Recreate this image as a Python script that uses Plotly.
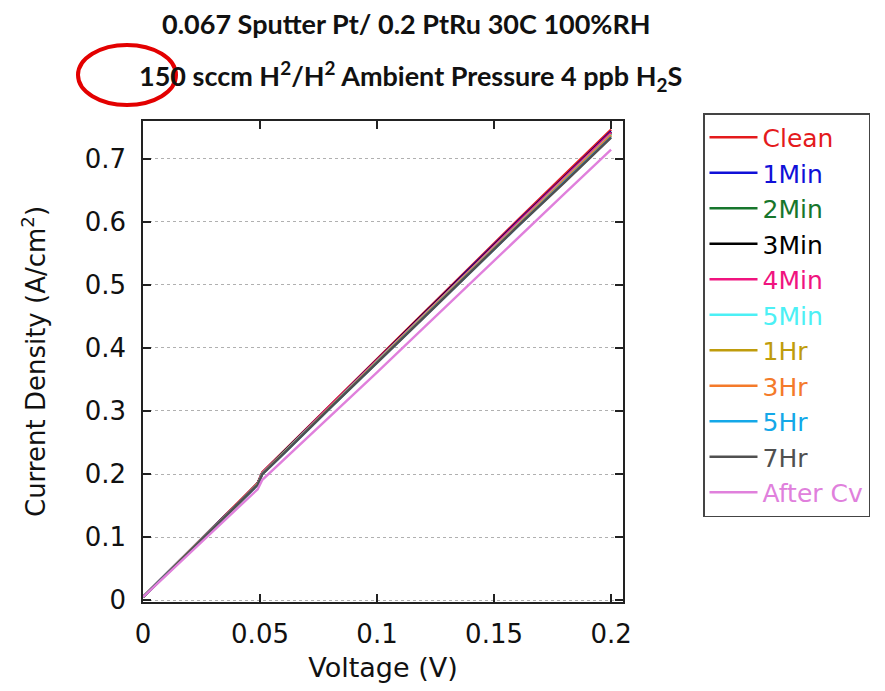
import plotly.graph_objects as go

voltage = [0, 0.01, 0.02, 0.03, 0.04, 0.049, 0.051, 0.06, 0.08, 0.10, 0.12, 0.14, 0.16, 0.18, 0.20]

clean   = [0.005, 0.042, 0.079, 0.116, 0.152, 0.186, 0.203, 0.236, 0.310, 0.383, 0.456, 0.529, 0.602, 0.674, 0.746]
min1    = [0.005, 0.042, 0.079, 0.116, 0.151, 0.185, 0.202, 0.235, 0.309, 0.381, 0.454, 0.527, 0.600, 0.671, 0.743]
min2    = [0.005, 0.042, 0.078, 0.115, 0.151, 0.185, 0.201, 0.234, 0.308, 0.380, 0.452, 0.525, 0.597, 0.669, 0.740]
min3    = [0.005, 0.042, 0.079, 0.115, 0.151, 0.185, 0.202, 0.235, 0.308, 0.381, 0.454, 0.526, 0.599, 0.670, 0.742]
min4    = [0.005, 0.042, 0.078, 0.115, 0.151, 0.185, 0.202, 0.234, 0.308, 0.380, 0.453, 0.525, 0.598, 0.669, 0.741]
min5    = [0.005, 0.042, 0.078, 0.115, 0.150, 0.184, 0.201, 0.234, 0.307, 0.379, 0.451, 0.523, 0.596, 0.667, 0.738]
hr1     = [0.005, 0.041, 0.078, 0.114, 0.150, 0.184, 0.200, 0.233, 0.306, 0.378, 0.450, 0.522, 0.594, 0.665, 0.736]
hr3     = [0.005, 0.042, 0.078, 0.115, 0.150, 0.184, 0.201, 0.233, 0.306, 0.378, 0.451, 0.523, 0.595, 0.666, 0.737]
hr5     = [0.005, 0.041, 0.078, 0.114, 0.150, 0.183, 0.200, 0.232, 0.305, 0.377, 0.449, 0.521, 0.592, 0.663, 0.734]
hr7     = [0.005, 0.041, 0.078, 0.114, 0.149, 0.183, 0.200, 0.232, 0.305, 0.376, 0.448, 0.520, 0.592, 0.662, 0.733]
aftercv = [0.005, 0.040, 0.075, 0.110, 0.144, 0.176, 0.191, 0.222, 0.292, 0.361, 0.432, 0.503, 0.574, 0.644, 0.714]

series_names = ["Clean", "1Min", "2Min", "3Min", "4Min", "5Min", "1Hr", "3Hr", "5Hr", "7Hr", "After Cv"]
series_values = [clean, min1, min2, min3, min4, min5, hr1, hr3, hr5, hr7, aftercv]
series_colors = ["#e41a1c", "#1010d8", "#17762c", "#000000", "#f0147f", "#4cf0f5",
                 "#bf9c0c", "#f47a2a", "#14a8e8", "#505050", "#e080dc"]

x_ticks = [0, 0.05, 0.1, 0.15, 0.2]
x_tick_labels = ["0", "0.05", "0.1", "0.15", "0.2"]
y_ticks = [0, 0.1, 0.2, 0.3, 0.4, 0.5, 0.6, 0.7]
y_tick_labels = ["0", "0.1", "0.2", "0.3", "0.4", "0.5", "0.6", "0.7"]

title1 = "0.067 Sputter Pt/ 0.2 PtRu 30C 100%RH"
title2 = "150 sccm H<sup>2</sup>/H<sup>2</sup> Ambient Pressure 4 ppb H<sub>2</sub>S"

fig = go.Figure()
for name, vals, col in zip(series_names, series_values, series_colors):
    fig.add_trace(go.Scatter(
        x=voltage, y=vals, mode="lines",
        name=f"<span style='color:{col}'>{name}</span>",
        line=dict(color=col, width=2.4),
    ))

# page body has an 8px margin: pixel positions below are screen px minus 8
OFF = 8
L, T = 143 - OFF, 121 - OFF
W, H = 885 - OFF, 691 - OFF
PW, PH = 480, 481

def px(x):
    return (x - OFF - L) / PW

def py(y):
    return (H - 89 - (y - OFF)) / PH

font_main = "DejaVu Sans, Liberation Sans, sans-serif"
title_font = dict(family="Lato, Open Sans, sans-serif", size=27, color="#111")
fig.update_layout(
    width=W, height=H,
    margin=dict(l=L, r=W - L - PW, t=T, b=89, autoexpand=False),
    paper_bgcolor="white", plot_bgcolor="white",
    font=dict(family=font_main, size=26, color="#111"),
    showlegend=True,
    legend=dict(
        x=px(703), y=py(113), xanchor="left", yanchor="top",
        bordercolor="#444", borderwidth=1.5, bgcolor="white",
        font=dict(family=font_main, size=25),
        tracegroupgap=0, itemwidth=48, maxheight=680,
        entrywidth=120, entrywidthmode="pixels",
    ),
    xaxis=dict(
        range=[0, 0.2051], tickvals=x_ticks, ticktext=x_tick_labels,
        ticks="inside", ticklen=8, tickwidth=1.5, tickcolor="#222",
        showline=True, linecolor="#222", linewidth=1.5, mirror="ticks",
        showgrid=False, zeroline=False, ticklabelstandoff=8,
        title=dict(text="Voltage (V)", font=dict(size=27), standoff=10),
        tickfont=dict(size=26),
    ),
    yaxis=dict(
        range=[-0.0027, 0.7595], tickvals=y_ticks, ticktext=y_tick_labels,
        ticks="inside", ticklen=8, tickwidth=1.5, tickcolor="#222",
        showline=True, linecolor="#222", linewidth=1.5, mirror="ticks",
        showgrid=True, gridcolor="#b0b0b0", griddash="dot", gridwidth=1,
        zeroline=False, ticklabelstandoff=10,
        title=dict(text="Current Density (A/cm<sup>2</sup>)", font=dict(size=26), standoff=32),
        tickfont=dict(size=26),
    ),
    annotations=[
        dict(text=f"<b>{title1}</b>", x=px(406), y=py(23),
             xref="paper", yref="paper", xanchor="center", yanchor="middle",
             showarrow=False, font=title_font),
        dict(text=f"<b>{title2}</b>", x=px(410), y=py(76),
             xref="paper", yref="paper", xanchor="center", yanchor="middle",
             showarrow=False, font=title_font),
    ],
    shapes=[
        dict(type="circle", xref="paper", yref="paper",
             x0=px(78), x1=px(176), y0=py(105), y1=py(45),
             line=dict(color="#e30000", width=4)),
    ],
)

fig.write_html("out.html")
